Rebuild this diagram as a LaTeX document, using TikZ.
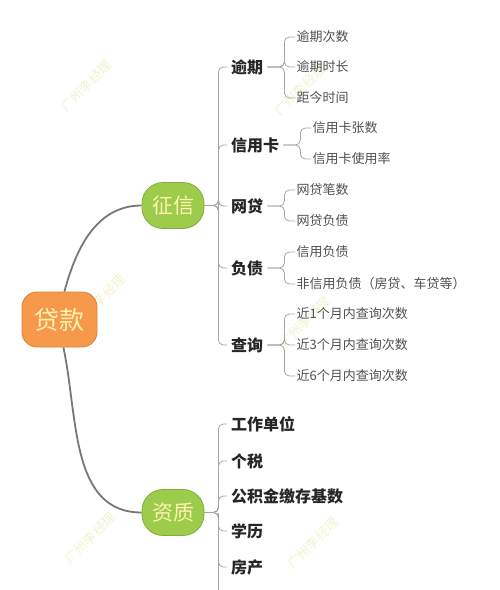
\documentclass[tikz,border=0pt]{standalone}
\usepackage{fontspec}
\setmainfont{Noto Sans CJK SC}
\usetikzlibrary{positioning}

\definecolor{rootfill}{HTML}{F7994B}
\definecolor{rootline}{HTML}{D9803A}
\definecolor{topicfill}{HTML}{9DCB4B}
\definecolor{topicline}{HTML}{82AD3C}
\definecolor{capword}{HTML}{FFF4B0}
\definecolor{trunkgray}{HTML}{777777}
\definecolor{twiggray}{HTML}{A6A6A6}
\definecolor{itemtext}{HTML}{262626}
\definecolor{leaftext}{HTML}{505050}
\definecolor{wmarkcol}{HTML}{F1F2CF}

\begin{document}
\begin{tikzpicture}[x=1pt,y=-1pt,
  rootbox/.style={draw=rootline,fill=rootfill,text=capword,line width=0.8pt,
    rounded corners=15pt,minimum width=75pt,minimum height=55pt,
    font=\fontsize{25}{25}\selectfont},
  topicbox/.style={draw=topicline,fill=topicfill,text=capword,line width=0.8pt,
    rounded corners=21pt,minimum width=62pt,minimum height=46pt,
    font=\fontsize{21}{21}\selectfont},
  item/.style={anchor=west,inner xsep=4pt,inner ysep=1pt,text=itemtext,
    font=\bfseries\fontsize{16}{16}\selectfont},
  leaf/.style={anchor=west,inner xsep=1pt,inner ysep=1pt,text=leaftext,
    font=\fontsize{13}{13}\selectfont},
  wmark/.style={rotate=45,text=wmarkcol,font=\fontsize{13}{13}\selectfont},
  trunk/.style={draw=trunkgray,line width=1.8pt},
  twig/.style={draw=twiggray,line width=0.8pt,rounded corners=5pt}]
  \useasboundingbox (0,0) rectangle (500,590);

  % watermarks
  \foreach \wx/\wy [count=\i] in {86/86,300/90,100/300,305/322,90/538,313/543}
    \node[wmark] (wm\i) at (\wx,\wy) {广州李经理};

  % root and main topics
  \node[rootbox] (loan) at (59.5,319.5) {贷款};
  \node[topicbox] (credit) at (173,205.5) {征信};
  \node[topicbox] (qual) at (173,512.5) {资质};
  \draw[trunk] (loan.80) to[out=75,in=180] (credit.west);
  \draw[trunk] (loan.-82) to[out=-78,in=180] (qual.west);

  % credit report branches
  \coordinate (credit-j) at ([xshift=14pt]credit.east);
  \foreach \name/\y/\txt in {yq/67/逾期,xyk/145/信用卡,wd/206/网贷,fz/268/负债,cx/345/查询}{
    \node[item] (\name) at (227,\y) {\txt};
    \draw[twig] (credit.east) -- (credit-j) |- (\name.west);
    \coordinate (\name-j) at ([xshift=17pt]\name.east);
  }
  \foreach \up/\y/\txt [count=\i] in {yq/37/逾期次数,yq/67/逾期时长,yq/98/距今时间,
      xyk/128/信用卡张数,xyk/159/信用卡使用率,
      wd/190/网贷笔数,wd/221/网贷负债,
      fz/252/信用负债,fz/284/非信用负债（房贷、车贷等）,
      cx/314/近1个月内查询次数,cx/345/近3个月内查询次数,cx/376/近6个月内查询次数}{
    \node[leaf] (lf\i) at ([xshift=11pt]\up-j |- 0,\y) {\txt};
    \draw[twig] (\up.east) -- (\up-j) |- (lf\i.west);
  }

  % qualification branches
  \coordinate (qual-j) at ([xshift=14pt]qual.east);
  \coordinate (qual-tail) at ([yshift=-90pt]qual-j);
  \foreach \name/\y/\txt in {gz/424/工作单位,gs/461/个税,gjj/496/公积金缴存基数,xl/531/学历,fc/567/房产}{
    \node[item] (\name) at (227,\y) {\txt};
    \draw[twig] (qual.east) -- (qual-j) |- (\name.west);
  }
  \draw[twig] (qual-j) -- (qual-tail);
\end{tikzpicture}
\end{document}
